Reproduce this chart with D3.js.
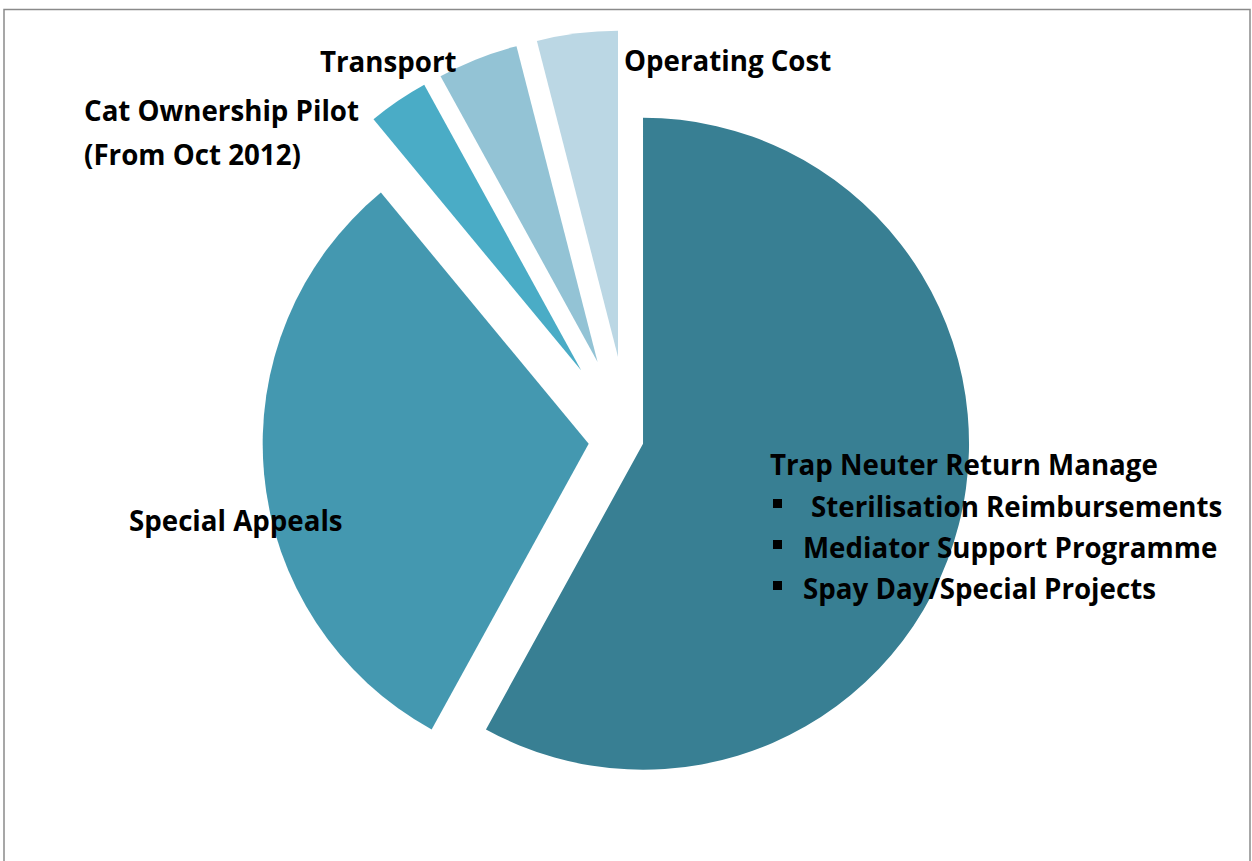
<!DOCTYPE html>
<html>
<head>
<meta charset="utf-8">
<script src="https://cdn.jsdelivr.net/npm/d3@7"></script>
<style>
  body { margin: 0; background: #fff; }
  text { font-family: "Open Sans", Lato, sans-serif; font-weight: bold; fill: #000; }
</style>
</head>
<body>
<div id="chart"></div>
<script>
// data (share of spending, %)
const categories = ["Trap Neuter Return Manage", "Special Appeals", "Cat Ownership Pilot", "Transport", "Operating Cost"];
const values = [58, 31, 3, 4, 4];
const subItems = ["Sterilisation Reimbursements", "Mediator Support Programme", "Spay Day/Special Projects"];

const colors = ["#387F93", "#4498B0", "#4AACC6", "#93C3D5", "#BBD7E4"];
const explode = [15, 40, 84, 84, 84];

const width = 1252;
const height = 861;
const cx = 628.5, cy = 440, radius = 326;

const svg = d3.select("#chart").append("svg")
  .attr("width", width)
  .attr("height", height);

// frame
svg.append("rect")
  .attr("x", 4).attr("y", 9.5)
  .attr("width", 1246).attr("height", 900)
  .attr("fill", "none")
  .attr("stroke", "#8a8a8a")
  .attr("stroke-width", 1.5);

const pie = d3.pie().sort(null).value(d => d);
const arc = d3.arc().innerRadius(0).outerRadius(radius);

const g = svg.append("g").attr("transform", `translate(${cx},${cy})`);

g.selectAll("path")
  .data(pie(values))
  .enter().append("path")
  .attr("d", arc)
  .attr("fill", (d, i) => colors[i])
  .attr("transform", (d, i) => {
    const mid = (d.startAngle + d.endAngle) / 2;
    return `translate(${explode[i] * Math.sin(mid)},${-explode[i] * Math.cos(mid)})`;
  });

// labels
const fs = 27.7;
function label(lines, x, y) {
  const t = svg.append("text").attr("x", x).attr("y", y).style("font-size", fs + "px");
  lines.forEach((l, i) => {
    t.append("tspan").attr("x", x).attr("dy", i === 0 ? 0 : 44).text(l);
  });
}
label(["Operating Cost"], 624, 71);
label(["Transport"], 320, 72);
label(["Cat Ownership Pilot", "(From Oct 2012)"], 84, 121);
label(["Special Appeals"], 129, 531);
label([categories[0]], 770, 475);

// bullet list under the main label
subItems.forEach((s, i) => {
  const y = 517 + i * 41;
  svg.append("rect")
    .attr("x", 773).attr("y", y - 18)
    .attr("width", 9).attr("height", 9)
    .attr("fill", "#000");
  svg.append("text")
    .attr("x", i === 0 ? 811 : 803).attr("y", y)
    .style("font-size", fs + "px")
    .text(s);
});
</script>
</body>
</html>
